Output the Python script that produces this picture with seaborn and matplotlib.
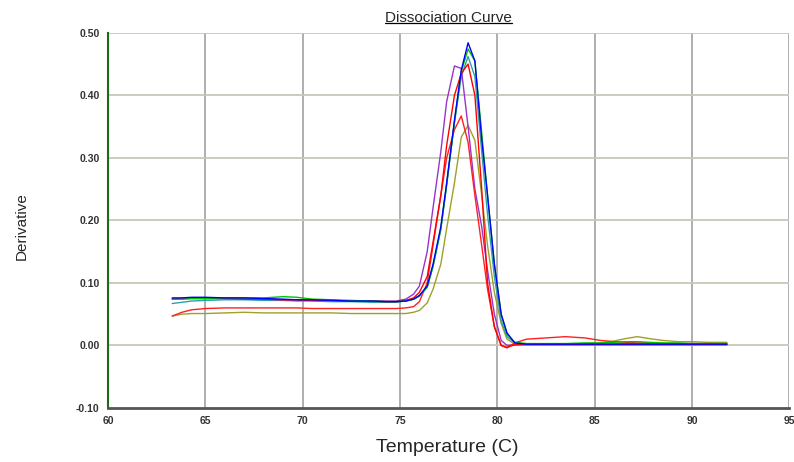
import numpy as np
import pandas as pd
import seaborn as sns
import matplotlib.pyplot as plt
from matplotlib.lines import Line2D

# temperature steps (C)
temps = [63.3, 63.8, 64.3, 65.0, 66.0, 67.0, 68.0, 69.0, 69.7, 70.5, 71.5, 72.5,
         73.5, 74.3, 74.8, 75.3, 75.7, 76.0, 76.4, 76.7, 77.1, 77.4, 77.8, 78.15,
         78.5, 78.85, 79.2, 79.5, 79.85, 80.2, 80.5, 80.9, 81.5, 82.5, 83.5, 84.5,
         85.3, 86.0, 86.6, 87.2, 87.8, 88.5, 89.3, 90.0, 90.8, 91.8]

olive = [0.047, 0.050, 0.051, 0.051, 0.052, 0.053, 0.052, 0.052, 0.052, 0.052, 0.052, 0.051,
         0.051, 0.051, 0.051, 0.051, 0.053, 0.056, 0.068, 0.090, 0.130, 0.187, 0.260, 0.333,
         0.352, 0.328, 0.240, 0.160, 0.085, 0.035, 0.010, 0.002, 0.002, 0.002, 0.002, 0.003,
         0.004, 0.007, 0.011, 0.014, 0.011, 0.008, 0.006, 0.006, 0.005, 0.005]
teal = [0.067, 0.069, 0.071, 0.072, 0.073, 0.073, 0.072, 0.072, 0.071, 0.071, 0.070, 0.070,
        0.069, 0.069, 0.069, 0.071, 0.074, 0.079, 0.094, 0.126, 0.186, 0.256, 0.356, 0.430,
        0.462, 0.430, 0.310, 0.210, 0.110, 0.040, 0.014, 0.004, 0.002, 0.002, 0.002, 0.002,
        0.002, 0.002, 0.003, 0.003, 0.003, 0.002, 0.002, 0.002, 0.002, 0.002]
purple = [0.075, 0.075, 0.076, 0.076, 0.076, 0.075, 0.074, 0.073, 0.073, 0.072, 0.072, 0.071,
          0.071, 0.071, 0.071, 0.074, 0.082, 0.095, 0.150, 0.220, 0.310, 0.390, 0.447, 0.443,
          0.350, 0.250, 0.190, 0.120, 0.050, 0.008, 0.000, 0.001, 0.002, 0.002, 0.002, 0.002,
          0.002, 0.002, 0.002, 0.002, 0.002, 0.002, 0.002, 0.002, 0.002, 0.002]
red_short = [0.047, 0.053, 0.057, 0.059, 0.060, 0.060, 0.060, 0.060, 0.060, 0.059, 0.059, 0.059,
             0.059, 0.059, 0.059, 0.060, 0.062, 0.070, 0.100, 0.160, 0.240, 0.300, 0.345, 0.367,
             0.325, 0.240, 0.160, 0.090, 0.030, 0.000, -0.004, 0.004, 0.010, 0.012, 0.014, 0.012,
             0.008, 0.006, 0.005, 0.004, 0.004, 0.003, 0.003, 0.003, 0.003, 0.002]
red_tall = [0.074, 0.075, 0.075, 0.075, 0.075, 0.074, 0.074, 0.073, 0.073, 0.072, 0.072, 0.071,
            0.071, 0.070, 0.070, 0.072, 0.076, 0.085, 0.110, 0.165, 0.240, 0.320, 0.400, 0.435,
            0.450, 0.400, 0.250, 0.100, 0.030, 0.000, -0.003, 0.001, 0.001, 0.001, 0.001, 0.001,
            0.001, 0.001, 0.001, 0.001, 0.001, 0.001, 0.001, 0.001, 0.001, 0.001]
green = [0.074, 0.074, 0.075, 0.075, 0.076, 0.076, 0.076, 0.078, 0.077, 0.074, 0.073, 0.072,
         0.071, 0.070, 0.070, 0.071, 0.074, 0.079, 0.093, 0.127, 0.186, 0.258, 0.358, 0.438,
         0.474, 0.455, 0.340, 0.240, 0.130, 0.050, 0.018, 0.005, 0.003, 0.003, 0.003, 0.004,
         0.004, 0.005, 0.006, 0.006, 0.005, 0.004, 0.004, 0.003, 0.003, 0.003]
blue = [0.076, 0.076, 0.077, 0.077, 0.076, 0.076, 0.075, 0.074, 0.073, 0.073, 0.072, 0.071,
        0.071, 0.070, 0.070, 0.071, 0.074, 0.080, 0.095, 0.130, 0.190, 0.260, 0.360, 0.440,
        0.484, 0.455, 0.330, 0.240, 0.130, 0.050, 0.020, 0.004, 0.002, 0.002, 0.002, 0.002,
        0.002, 0.002, 0.002, 0.002, 0.002, 0.002, 0.002, 0.002, 0.002, 0.002]

wells = {'olive': olive, 'teal': teal, 'purple': purple, 'red_short': red_short,
         'red_tall': red_tall, 'green': green, 'blue': blue}
colors = {'olive': '#a0a028', 'teal': '#30a0a8', 'purple': '#9933cc', 'red_short': '#ff2020',
          'red_tall': '#ff0000', 'green': '#00c000', 'blue': '#0000ff'}

df = pd.concat([pd.DataFrame({'temp': temps, 'deriv': v, 'well': k}) for k, v in wells.items()])

sns.set_style('white')
plt.rcParams['font.family'] = ['Liberation Sans', 'DejaVu Sans']

fig = plt.figure(figsize=(7.94, 4.62), dpi=100)
ax = fig.add_axes([0.136, 0.117, 0.858, 0.812])

# grid
for t in range(65, 96, 5):
    ax.axvline(t, color='#a8a8a8', lw=1.3, zorder=0)
for v in np.arange(0.0, 0.51, 0.1):
    ax.axhline(v, color='#c8c8b8', lw=1.3, zorder=0)

sns.lineplot(data=df, x='temp', y='deriv', hue='well', palette=colors,
             hue_order=list(wells.keys()), estimator=None, sort=False,
             legend=False, lw=1.0, ax=ax)

ax.set_xlim(60, 95)
ax.set_ylim(-0.10, 0.50)
ax.set_xticks(range(60, 96, 5))
ax.set_yticks(np.arange(-0.1, 0.51, 0.1))
ax.set_yticklabels(['%.2f' % v for v in np.arange(-0.1, 0.51, 0.1)])
ax.tick_params(length=0, labelsize=7.5, labelcolor='#333333', pad=6)
for lab in ax.get_xticklabels() + ax.get_yticklabels():
    lab.set_fontweight('semibold')

for s in ['top', 'right']:
    ax.spines[s].set_visible(False)
ax.spines['left'].set_color('#1a6a1a')
ax.spines['left'].set_linewidth(1.5)
ax.spines['bottom'].set_color('#555555')
ax.spines['bottom'].set_linewidth(2)

ax.set_xlabel('')
ax.set_ylabel('')
fig.text(0.563, 0.032, 'Temperature (C)', ha='center', va='center', fontsize=14)
fig.text(0.028, 0.51, 'Derivative', ha='center', va='center', rotation=90, fontsize=11)

title = fig.text(0.565, 0.962, 'Dissociation Curve', ha='center', va='center', fontsize=11)
fig.canvas.draw()
bb = title.get_window_extent().transformed(fig.transFigure.inverted())
fig.add_artist(Line2D([bb.x0, bb.x1], [bb.y0 + 0.003, bb.y0 + 0.003], color='black', lw=0.9))

plt.savefig('out.png', dpi=100)
